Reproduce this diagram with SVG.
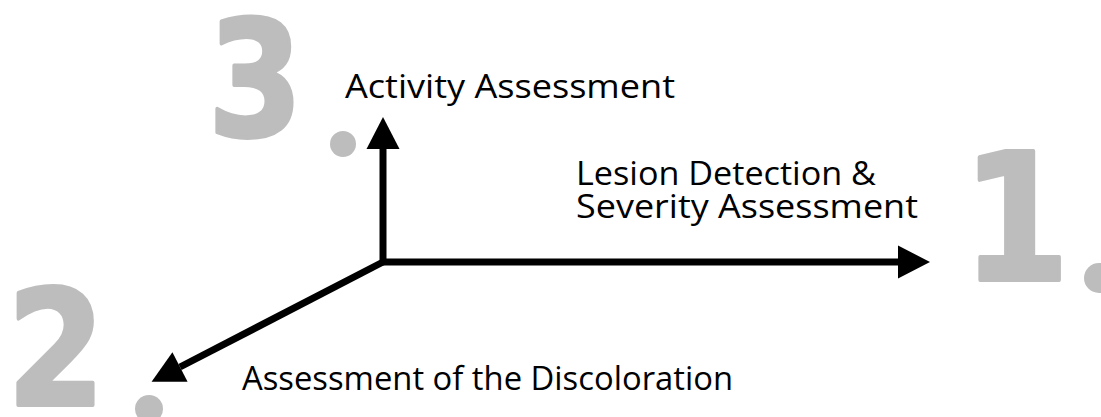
<svg xmlns="http://www.w3.org/2000/svg" width="1101" height="417" viewBox="0 0 1101 417">
  <style>
    .num { font-family: "DejaVu Sans", sans-serif; font-weight: bold; fill: #bdbdbd; stroke: #bdbdbd; stroke-width: 4; stroke-linejoin: round; }
    .dot { fill: #bdbdbd; }
    .lbl { font-family: "Open Sans", "Noto Sans", sans-serif; font-size: 33px; fill: #000; }
    .axis { stroke: #000; stroke-width: 7; fill: none; marker-end: url(#arrow); }
  </style>
  <defs>
    <marker id="arrow" markerUnits="userSpaceOnUse" markerWidth="33" markerHeight="34" refX="0" refY="16.5" orient="auto" overflow="visible">
      <path d="M0,0 L32,16.5 L0,33 Z" fill="#000"/>
    </marker>
  </defs>
  <rect width="1101" height="417" fill="#fff"/>

  <g id="label-3">
    <text class="num" transform="translate(208,136) scale(0.85,1)" font-size="160">3</text>
    <circle class="dot" cx="343" cy="144" r="13"/>
  </g>
  <g id="label-1">
    <text class="num" transform="translate(962,280) scale(0.88,1)" font-size="176">1</text>
    <circle class="dot" cx="1099" cy="278" r="15"/>
  </g>
  <g id="label-2">
    <text class="num" transform="translate(7,405) scale(0.88,1)" font-size="160">2</text>
    <circle class="dot" cx="149" cy="409" r="14"/>
  </g>

  <g id="connectors">
    <line class="axis" x1="383" y1="265" x2="383" y2="149"/>
    <line class="axis" x1="380" y1="262" x2="898" y2="262"/>
    <line class="axis" x1="383" y1="262" x2="180" y2="367"/>
  </g>

  <g id="activity">
    <text class="lbl" x="345" y="98" textLength="330" lengthAdjust="spacingAndGlyphs">Activity Assessment</text>
  </g>
  <g id="lesion">
    <text class="lbl" x="576" y="185" textLength="300" lengthAdjust="spacingAndGlyphs">Lesion Detection &amp;</text>
    <text class="lbl" x="576" y="218" textLength="342" lengthAdjust="spacingAndGlyphs">Severity Assessment</text>
  </g>
  <g id="discoloration">
    <text class="lbl" x="242" y="390" textLength="491" lengthAdjust="spacingAndGlyphs">Assessment of the Discoloration</text>
  </g>
</svg>
